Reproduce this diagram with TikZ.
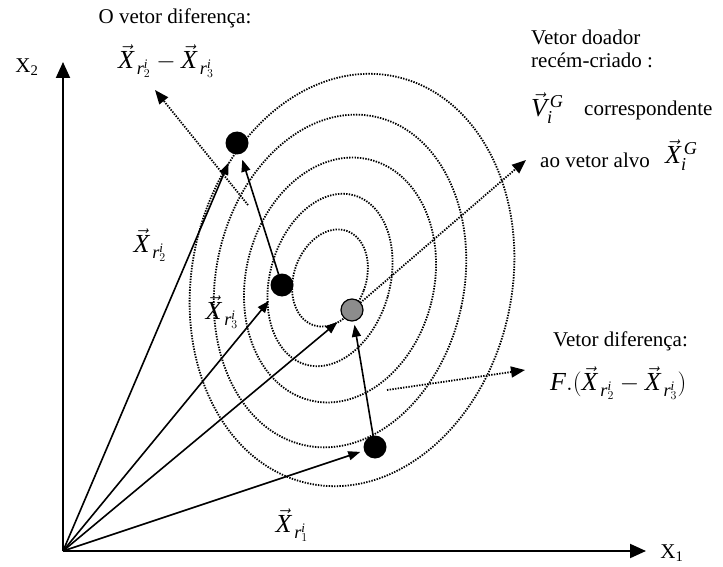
\documentclass[tikz,border=0pt]{standalone}
\usepackage{fontspec}
\setmainfont{Liberation Serif}
\usetikzlibrary{arrows.meta}
\newcommand{\VX}{\vec{\mathit{X}}}
\begin{document}
\begin{tikzpicture}[x=1pt,y=-1pt,
  axisline/.style={line width=2pt, -{Triangle[length=16pt,width=14pt]}},
  vecline/.style={line width=1.6pt, -{Triangle[length=12pt,width=9pt]}},
  dotline/.style={line width=1.8pt, black, dash pattern=on 1.4pt off 1.3pt, -{Triangle[length=14pt,width=11pt]}},
  contour/.style={line width=1.8pt, black, dash pattern=on 1.4pt off 1.3pt},
  dotnode/.style={circle, fill=black, minimum size=23pt, inner sep=0pt, outer sep=0pt},
  graynode/.style={circle, draw=black, line width=1.2pt, fill=black!45, minimum size=22pt, inner sep=0pt, outer sep=0pt},
  txt/.style={font=\fontsize{21}{23}\selectfont, inner sep=0pt},
  mth/.style={font=\fontsize{26}{28}\selectfont, inner sep=0pt},
]
\useasboundingbox (0,0) rectangle (723,567);

% contour ellipses
\draw[contour, rotate around={-12:(352,280)}] (352,280) ellipse [x radius=160pt, y radius=208pt];
\draw[contour, rotate around={-12:(340,281)}] (340,281) ellipse [x radius=124pt, y radius=168pt];
\draw[contour, rotate around={-14:(340,280)}] (340,280) ellipse [x radius=94pt, y radius=124pt];
\draw[contour, rotate around={-16:(330,280)}] (330,280) ellipse [x radius=60pt, y radius=88pt];
\draw[contour, rotate around={-20:(330,278)}] (330,278) ellipse [x radius=36pt, y radius=50pt];

% axes
\coordinate (O) at (63,551);
\coordinate (xend) at (646,551);
\coordinate (yend) at (63,62);
\draw[axisline] (O) -- (xend);
\draw[axisline] (O) -- (yend);
\node[txt] (x1) at (672,553) {X\textsubscript{1}};
\node[txt] (x2) at (27,67) {X\textsubscript{2}};

% points
\node[dotnode] (d1) at (237,143) {};
\node[dotnode] (d2) at (282,285) {};
\node[graynode] (dg) at (352,310) {};
\node[dotnode] (d4) at (375,447) {};

% dotted arrows
\coordinate (a1s) at (248,205);
\coordinate (a1e) at (155,90);
\draw[dotline] (a1s) -- (a1e);
\coordinate (a2e) at (526,160);
\draw[dotline] (dg) -- (a2e);
\coordinate (a3s) at (387,390);
\coordinate (a3e) at (525,370);
\draw[dotline] (a3s) -- (a3e);

% vectors from origin
\draw[vecline, shorten >=10pt] (O) -- (d1);
\draw[vecline, shorten >=9pt] (O) -- (d2);
\draw[vecline, shorten >=8pt] (O) -- (dg);
\draw[vecline, shorten >=4pt] (O) -- (d4);
% difference vectors
\draw[vecline, shorten >=6pt] (d2) -- (d1);
\draw[vecline, shorten >=4pt] (d4) -- (dg);

% labels
\node[txt] (t1) at (175,18) {O vetor diferença:};
\node[mth] (m1) at (166,61) {$\VX_{\,\mathit{r}_2^{\mathit{i}}}-\VX_{\,\mathit{r}_3^{\mathit{i}}}$};
\node[mth] (l2) at (150,245) {$\VX_{\,\mathit{r}_2^{\mathit{i}}}$};
\node[mth] (l3) at (222,312) {$\VX_{\,\mathit{r}_3^{\mathit{i}}}$};
\node[mth] (l1) at (292,525) {$\VX_{\,\mathit{r}_1^{\mathit{i}}}$};

\node[txt, anchor=west] (t2) at (531,37) {Vetor doador};
\node[txt, anchor=west] (t3) at (531,60) {recém-criado :};
\node[mth, anchor=west] (t4) at (531,108) {$\vec{\mathit{V}}_{\mathit{i}}^{\,\mathit{G}}$};
\node[txt, anchor=west] (t5) at (584,110) {correspondente};
\node[txt, anchor=west] (t6) at (540,160) {ao vetor alvo};
\node[mth, anchor=west] (t7) at (665,155) {$\VX_{\mathit{i}}^{\,\mathit{G}}$};
\node[txt, anchor=west] (t8) at (553,341) {Vetor diferença:};
\node[mth, anchor=west] (t9) at (550,383) {$\mathit{F}.(\VX_{\,\mathit{r}_2^{\mathit{i}}}-\VX_{\,\mathit{r}_3^{\mathit{i}}})$};
\end{tikzpicture}
\end{document}
